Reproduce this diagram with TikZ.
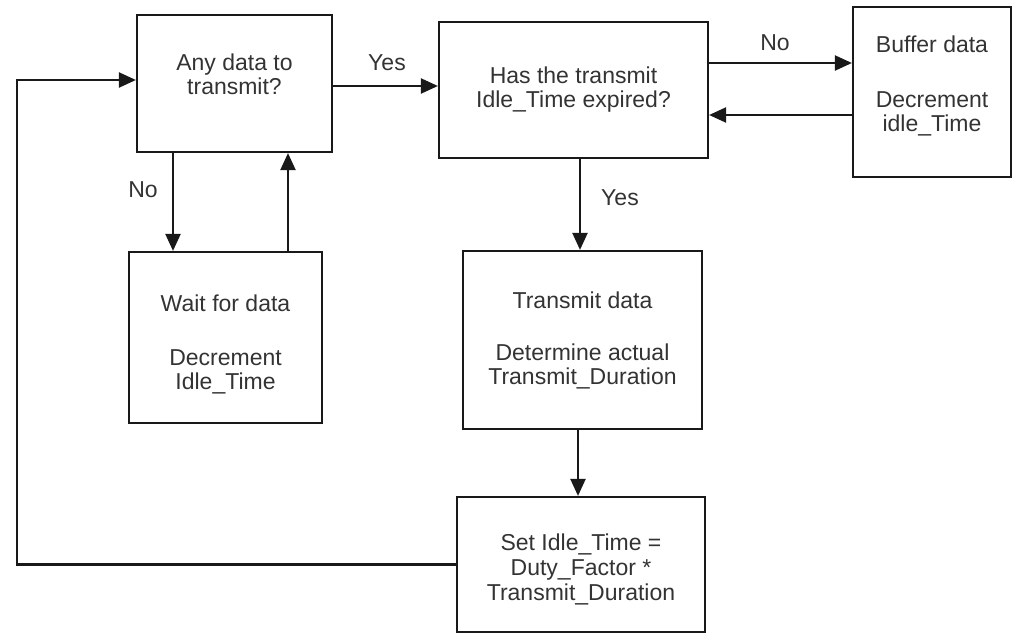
\documentclass[tikz,border=0pt]{standalone}
\usepackage{fontspec}
\setmainfont{Liberation Sans}
\usetikzlibrary{arrows.meta}
\begin{document}
\begin{tikzpicture}[x=1pt,y=-1pt,
  box/.style={draw=black!90, line width=2.2pt, inner sep=0pt, align=center,
    font=\fontsize{23}{24}\selectfont, text=black!80},
  arr/.style={draw=black!90, line width=2.2pt, -{Triangle[length=17pt,width=15pt]}},
  lbl/.style={font=\fontsize{23}{24}\selectfont, text=black!80, inner sep=0pt}]
\useasboundingbox (0,0) rectangle (1013,634);
% boxes
\node[box, minimum width=195pt, minimum height=137pt] (A) at (234.5,83.5) {Any data to\\transmit?\\[-6pt]\mbox{}};
\node[box, minimum width=269pt, minimum height=136pt] (B) at (573.5,90) {Has the transmit\\Idle\_Time expired?};
\node[box, minimum width=158pt, minimum height=170pt] (F) at (932,92) {Buffer data\\[31pt]Decrement\\idle\_Time\\[-7pt]\mbox{}};
\node[box, minimum width=193pt, minimum height=171pt] (W) at (225.5,337.5) {\mbox{}\\[7pt]Wait for data\\[30pt]Decrement\\Idle\_Time};
\node[box, minimum width=239pt, minimum height=178pt] (T) at (582.5,340) {Transmit data\\[28pt]Determine actual\\Transmit\_Duration};
\node[box, minimum width=248pt, minimum height=135pt] (S) at (581,564.5) {\mbox{}\\[3pt]Set Idle\_Time =\\[1pt]Duty\_Factor *\\[1pt]Transmit\_Duration};
% helper coordinates
\coordinate (yYes) at (0,86);
\coordinate (xNo) at (173,0);
\coordinate (xUp) at (288,0);
\coordinate (yNoR) at (0,63);
\coordinate (yBack) at (0,115);
\coordinate (xYes) at (580,0);
\coordinate (xTS) at (578,0);
\coordinate (L) at (17,80);
% connectors
\draw[arr] (A.east |- yYes) -- (B.west |- yYes);
\draw[arr] (A.south -| xNo) -- (W.north -| xNo);
\draw[arr] (W.north -| xUp) -- (A.south -| xUp);
\draw[arr] (B.east |- yNoR) -- (F.west |- yNoR);
\draw[arr] (F.west |- yBack) -- (B.east |- yBack);
\draw[arr] (B.south -| xYes) -- (T.north -| xYes);
\draw[arr] (T.south -| xTS) -- (S.north -| xTS);
\draw[arr] (S.west) -| (L) -- (L -| A.west);
% labels
\node[lbl] (lYes1) at (387,63) {Yes};
\node[lbl] (lNo1) at (143,190) {No};
\node[lbl] (lNo2) at (775,43) {No};
\node[lbl] (lYes2) at (620,198) {Yes};
\end{tikzpicture}
\end{document}
